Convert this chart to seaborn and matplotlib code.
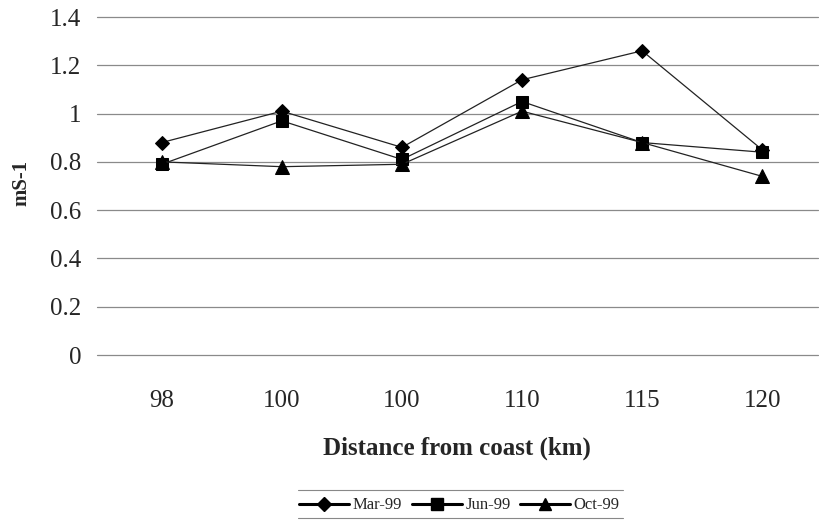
import matplotlib
matplotlib.use("Agg")
import matplotlib.pyplot as plt
import seaborn as sns
import pandas as pd
from matplotlib.lines import Line2D

categories = ["98", "100", "100", "110", "115", "120"]
mar99 = [0.88, 1.01, 0.86, 1.14, 1.26, 0.85]
jun99 = [0.79, 0.97, 0.81, 1.05, 0.88, 0.84]
oct99 = [0.80, 0.78, 0.79, 1.01, 0.88, 0.74]
series_names = ["Mar-99", "Jun-99", "Oct-99"]
yticks = [0, 0.2, 0.4, 0.6, 0.8, 1, 1.2, 1.4]

sns.set_theme(style="white")
plt.rcParams['font.family'] = ['Liberation Serif', 'DejaVu Serif']

rows = []
for name, vals in zip(series_names, [mar99, jun99, oct99]):
    for i, v in enumerate(vals):
        rows.append({"pos": i, "value": v, "series": name})
df = pd.DataFrame(rows)

fig = plt.figure(figsize=(8.19, 5.2), dpi=100)
ax = fig.add_axes([0.118, 0.3173, 0.881, 0.65])

for y in yticks:
    ax.axhline(y, color="#8a8a8a", lw=0.9, zorder=0, clip_on=False)

markers = {"Mar-99": "D", "Jun-99": "s", "Oct-99": "^"}
sizes = {"Mar-99": 7.5, "Jun-99": 8.5, "Oct-99": 9.5}
for name in series_names:
    sub = df[df.series == name]
    sns.lineplot(data=sub, x="pos", y="value", ax=ax, color="#222222", lw=0.9,
                 marker=markers[name], markersize=sizes[name],
                 markerfacecolor="black", markeredgecolor="black", legend=False)

ax.set_xlim(-0.542, 5.466)
ax.set_ylim(0, 1.4)
ax.set_xticks(range(len(categories)))
ax.set_xticklabels(categories, fontsize=18)
ax.set_yticks(yticks)
ax.set_yticklabels([f"{t:g}" for t in yticks], fontsize=18)
ax.tick_params(axis="x", length=0, pad=25)
ax.tick_params(axis="y", length=0, pad=11)
for s in ax.spines.values():
    s.set_visible(False)
ax.set_xlabel("Distance from coast (km)", fontsize=18, fontweight="bold", labelpad=18)
ax.set_ylabel("mS-1", fontsize=15, fontweight="bold", labelpad=12)
ax.yaxis.set_label_coords(-0.09, 0.51)

handles = [Line2D([], [], color="black", lw=2.2, marker=markers[n], markersize=sizes[n] - 0.5,
                  markerfacecolor="black") for n in series_names]
leg = fig.legend(handles, series_names, loc="center", bbox_to_anchor=(0.561, 0.028),
                 ncol=3, frameon=False, fontsize=12, handlelength=3.0,
                 handletextpad=0.2, columnspacing=0.6, borderpad=0, borderaxespad=0)
fig.add_artist(Line2D([0.364, 0.761], [0.058, 0.058], color="#888888", lw=0.8, transform=fig.transFigure))
fig.add_artist(Line2D([0.364, 0.761], [0.003, 0.003], color="#888888", lw=0.8, transform=fig.transFigure))

fig.savefig("out.png", dpi=100)
